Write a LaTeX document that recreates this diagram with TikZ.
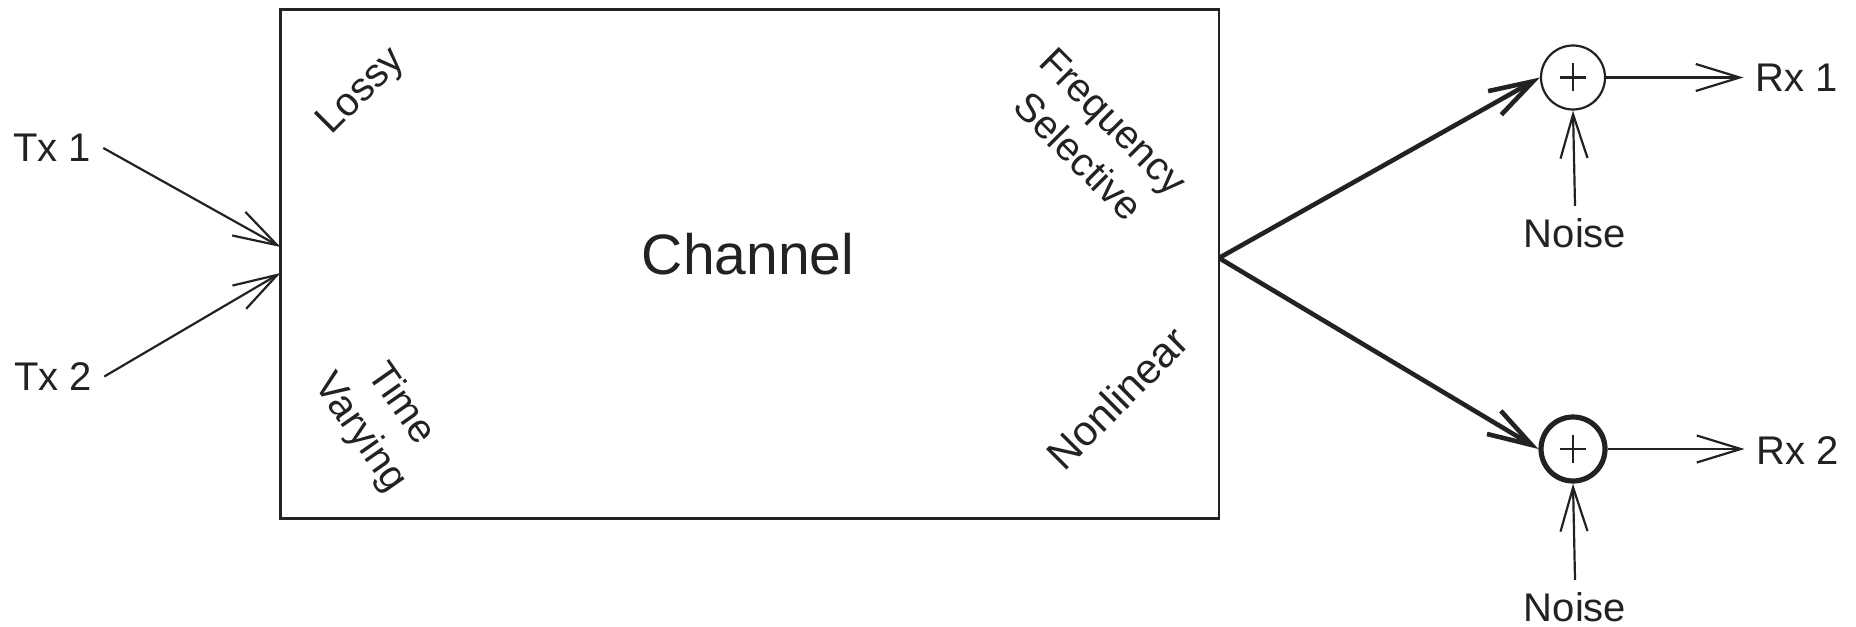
\documentclass[tikz,border=0pt]{standalone}
\usepackage{fontspec}
\setmainfont{Liberation Sans}
\usetikzlibrary{arrows.meta,calc}
\definecolor{ink}{HTML}{222222}
\begin{document}
\begin{tikzpicture}[x=0.5pt,y=-0.5pt,
  lbl/.style={font=\fontsize{20}{25}\selectfont, text=ink, inner sep=6pt},
  tip/.style={-{Straight Barb[length=22pt,width=13.5pt]}},
  conn/.style={line width=1.1pt, ink, tip},
  heavy/.style={line width=2.3pt, ink, tip},
  adder/.style={circle, draw=ink, minimum size=32pt, inner sep=0pt,
    path picture={
      \draw[line width=1.1pt, ink]
        ($(path picture bounding box.center)+(-13,0)$) -- ($(path picture bounding box.center)+(13,0)$)
        ($(path picture bounding box.center)+(0,-14)$) -- ($(path picture bounding box.center)+(0,14)$);
    }}
]
\useasboundingbox (0,0) rectangle (1856,626);

% channel block
\node[draw=ink, line width=1.4pt, minimum width=469.25pt, minimum height=254.5pt, inner sep=0pt]
  (box) at (749.75,264) {};
\node[lbl, font=\fontsize{28.5}{30}\selectfont] (chl) at (748,254) {Channel};

% channel impairments
\node[lbl, rotate=45] (lossy) at (362,92) {Lossy};
\node[lbl, rotate=-45, align=center] (freq) at (1096,139) {Frequency\\Selective};
\node[lbl, rotate=-55, align=center] (tvar) at (380,419) {Time\\Varying};
\node[lbl, rotate=45, font=\fontsize{21}{25}\selectfont] (nonlin) at (1117,398) {Nonlinear};

% transmitters
\node[lbl] (tx1) at (52,148) {Tx 1};
\node[lbl] (tx2) at (53,376.5) {Tx 2};
\coordinate (in1) at (280.5,247);
\coordinate (in2) at (280.5,273);
\draw[conn] (tx1.east) -- (in1);
\draw[conn] (tx2.east) -- (in2);

% receivers
\coordinate (out) at (1219,258);
\node[adder, line width=1.1pt] (add1) at (1573,77.5) {};
\node[adder, line width=2.6pt] (add2) at (1573,449) {};
\draw[heavy] (out) -- (add1.west);
\draw[heavy] (out) -- (add2.west);

\node[lbl] (rx1) at (1797,77.5) {Rx 1};
\node[lbl] (rx2) at (1798,451) {Rx 2};
\draw[conn] (add1.east) -- (add1.east -| rx1.west);
\draw[conn] (add2.east) -- (add2.east -| rx2.west);

\node[lbl] (n1) at (1575,233) {Noise};
\node[lbl, inner sep=3pt] (n2) at (1575,607) {Noise};
\draw[conn] (n1.north) -- (add1.south);
\draw[conn] ($(n2.north)+(0,-6)$) -- (add2.south);
\end{tikzpicture}
\end{document}
